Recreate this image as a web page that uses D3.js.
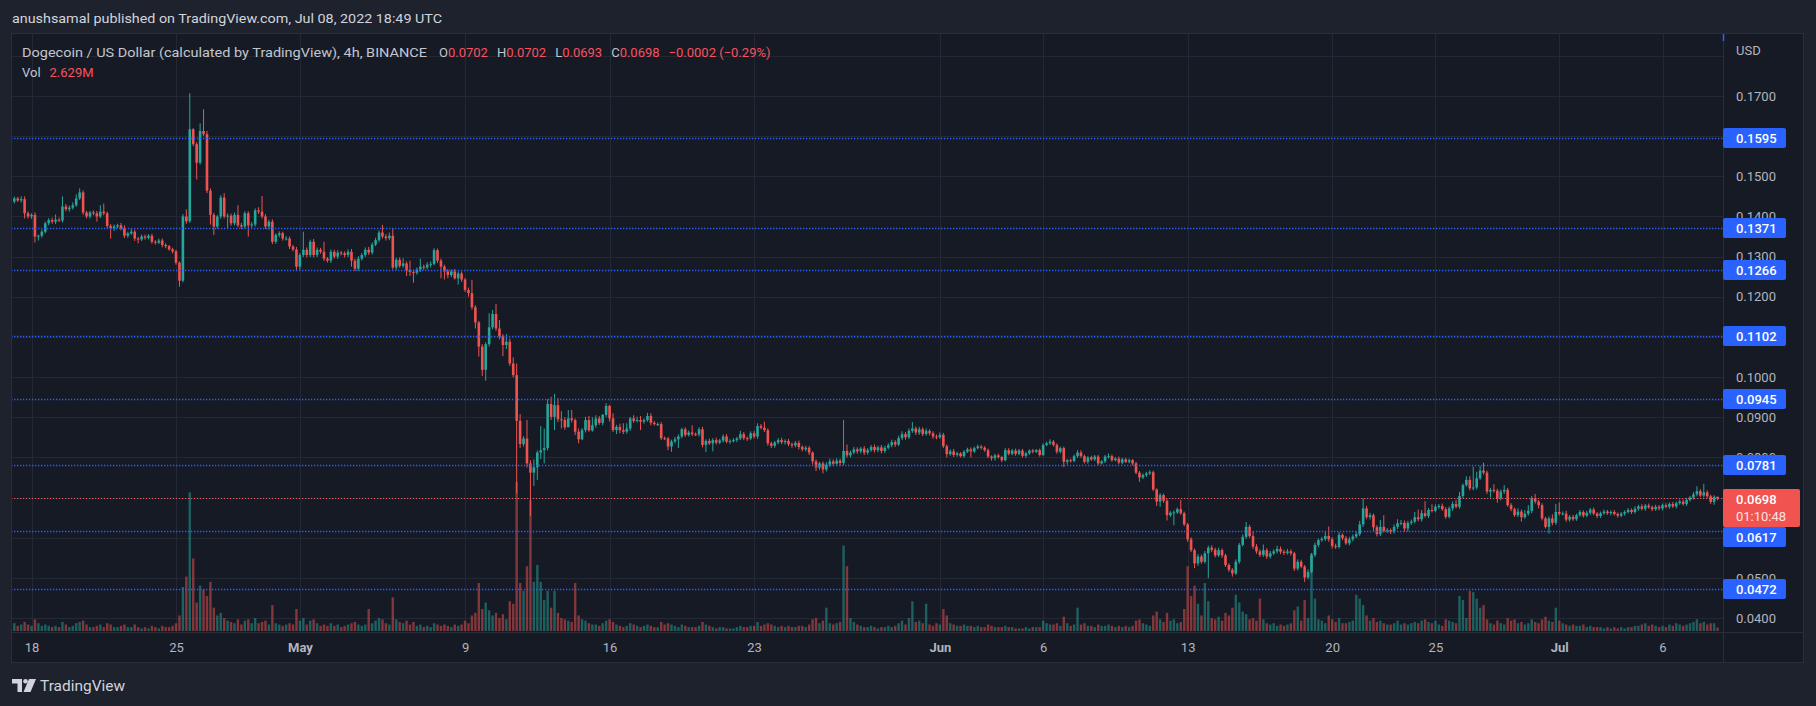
<!DOCTYPE html>
<html>
<head>
<meta charset="utf-8">
<title>Dogecoin / US Dollar, 4h</title>
<script src="https://cdn.jsdelivr.net/npm/d3@7"></script>
<style>
  html, body { margin: 0; padding: 0; background: #1e222d; }
  svg { display: block; font-family: Roboto, "Noto Sans", sans-serif; }
</style>
</head>
<body>
<svg id="chart" width="1816" height="706"></svg>
<script>
// 4h candles, first bar Apr 17 04:00, prices in units of 0.0001 USD
// open of a bar = close of the bar before it
const firstBar = Date.UTC(2022, 3, 17, 4);
const firstOpen = 1437;

const closes = [
  1445,1440,1443,1408,1400,            // Apr 17
  1404,1350,1352,1362,1383,1391,       // Apr 18
  1387,1392,1390,1425,1418,1422,
  1428,1445,1460,1410,1400,1410,
  1408,1400,1412,1408,1376,1370,
  1375,1378,1370,1352,1358,1362,
  1345,1343,1350,1347,1352,1337,
  1335,1340,1329,1326,1318,1313,
  1285,1240,1400,1388,1617,1580,       // Apr 25
  1534,1613,1605,1464,1404,1375,
  1400,1447,1400,1402,1383,1404,
  1378,1375,1408,1378,1380,1415,
  1412,1400,1375,1387,1337,1354,
  1358,1345,1345,1325,1318,1275,       // Apr 30
  1304,1317,1304,1337,1304,1317,       // May 1
  1312,1295,1290,1312,1300,1310,
  1308,1304,1312,1290,1270,1295,
  1304,1317,1310,1330,1341,1360,
  1350,1346,1352,1273,1292,1277,
  1283,1267,1262,1260,1268,1275,
  1273,1280,1282,1316,1290,1275,
  1263,1254,1263,1246,1258,1243,
  1217,1209,1174,1136,1076,1018,       // May 9
  1082,1124,1157,1121,1102,1080,
  1088,1034,1005,891,833,847,
  785,762,775,812,818,823,
  933,901,930,895,893,875,
  897,893,864,845,868,893,
  867,880,897,886,906,928,
  897,868,876,868,864,872,             // May 16
  897,891,893,889,893,903,
  886,883,883,848,847,827,
  840,845,852,870,856,862,
  858,857,870,831,841,835,
  843,837,842,852,839,841,
  843,847,858,848,847,860,
  852,878,874,868,835,829,             // May 23
  837,843,838,841,833,830,
  836,826,820,824,812,790,
  775,785,770,782,790,784,
  792,786,816,805,812,820,
  815,822,812,818,826,818,
  825,816,824,830,838,832,
  848,858,850,866,872,862,
  870,858,866,860,852,850,             // May 31
  856,828,808,815,806,810,             // Jun 1
  803,814,820,815,823,827,
  824,818,802,798,805,801,
  793,818,809,817,809,817,
  804,810,817,814,818,806,
  831,835,839,831,814,823,             // Jun 6
  789,793,791,803,812,803,
  789,800,795,802,785,790,
  802,803,793,797,787,795,
  789,793,785,762,750,756,
  760,763,720,690,706,692,
  656,662,663,671,661,633,
  596,569,536,553,540,561,             // Jun 13
  575,570,556,569,556,532,
  520,511,540,582,602,627,
  604,578,566,557,569,553,
  561,566,572,565,562,566,
  561,523,540,528,501,515,
  557,582,594,597,604,596,
  579,577,607,599,586,596,             // Jun 20
  603,609,633,673,651,656,
  626,609,627,617,619,615,
  627,636,637,623,637,640,
  651,646,661,654,669,667,
  677,679,671,652,673,684,             // Jun 25
  677,704,731,744,723,725,
  748,767,762,715,719,717,
  698,715,719,681,671,656,
  665,651,660,667,698,690,
  681,648,627,648,637,664,             // Jun 30
  660,660,645,652,646,656,             // Jul 1
  664,655,662,670,660,654,
  661,665,661,664,659,655,
  660,664,669,664,672,678,
  672,680,676,671,677,673,
  681,677,684,678,686,690,             // Jul 6
  684,694,700,708,716,705,
  713,703,689,702,698                  // Jul 8
];

// wick above the body / below the body, same units
const wickUp = [
  5,4,7,7,5,
  4,6,3,5,4,5,  6,13,5,25,6,5,  7,10,10,5,4,4,  5,6,16,20,4,5,  5,4,6,8,4,8,
  5,4,5,5,4,5,  4,5,5,4,3,4,  4,3,6,18,90,3,  5,19,54,8,6,5,  4,6,11,6,5,6,
  24,6,5,5,6,5,  8,39,6,5,6,4,  5,4,6,5,4,6,
  5,45,6,5,7,6,  5,25,4,6,5,6,  4,5,6,7,5,6,  5,6,7,5,6,5,  19,6,8,18,5,6,
  13,5,23,6,5,20,  5,6,6,5,4,5,  5,6,5,6,5,5,  4,6,33,5,4,6,  5,35,10,25,21,5,
  19,8,15,29,17,6,  46,8,20,5,60,49,  12,18,28,17,20,7,  21,21,4,8,5,8,  10,20,8,6,2,7,
  3,13,5,8,17,13,  4,8,8,10,4,8,  7,5,4,5,4,4,  4,6,5,4,5,5,  18,4,5,6,4,6,
  5,6,4,5,6,4,  5,4,8,5,4,5,  6,7,5,15,4,4,  4,5,6,4,5,4,  5,6,4,5,4,3,
  5,4,5,6,7,5,  6,5,77,16,5,6,  5,4,6,5,5,6,  4,6,5,5,6,5,  6,7,5,6,16,5,
  6,5,6,4,5,5,
  6,5,4,5,6,4,  3,4,4,5,4,5,  4,4,4,3,4,4,  3,5,5,4,5,4,  4,4,3,4,3,4,
  4,4,6,4,4,4,  4,3,4,4,6,6,  4,3,4,4,4,3,  4,7,4,4,5,4,  4,4,3,4,4,4,
  4,5,4,3,5,4,  4,4,5,4,23,4,  4,5,4,6,5,6,  5,6,5,6,4,4,  4,4,6,5,6,12,
  5,12,6,5,14,5,  6,5,8,6,5,6,  5,4,6,5,4,6,  5,6,4,5,11,24,  5,6,7,4,5,6,
  5,6,9,25,6,6,  4,5,17,29,5,4,  6,10,7,6,5,5,  13,19,8,30,5,14,  6,5,6,5,5,6,
  10,10,4,9,9,52,  16,11,20,5,5,14,  5,5,12,5,5,4,  8,5,9,14,6,11,  4,5,4,5,10,20,
  24,5,7,4,5,4,  5,4,5,4,5,4,  4,5,4,4,5,4,  4,4,5,4,6,4,  5,4,5,4,5,4,
  4,5,4,5,4,5,  5,5,4,6,12,5,  21,5,4,4,0
];
const wickDn = [
  5,4,5,13,5,
  6,15,10,5,4,5,  5,6,4,5,5,6,  5,4,4,6,5,5,  5,13,4,5,6,25,  6,5,5,6,5,4,
  6,10,4,5,4,5,  5,4,6,5,3,5,  5,15,4,6,4,5,  42,5,5,6,24,21,  5,6,5,30,6,5,
  5,6,5,28,6,5,  6,5,6,8,6,5,  6,5,5,6,5,8,
  8,5,6,5,6,5,  5,6,5,6,5,6,  5,6,5,15,6,5,  5,5,6,5,4,5,  5,6,5,5,6,5,
  5,15,10,25,5,6,  6,5,7,4,6,29,  20,8,5,3,16,6,  5,9,6,15,25,15,  27,6,5,6,8,28,
  10,6,6,181,10,6,  10,108,33,31,16,33,  6,8,33,7,21,6,  0,6,8,10,2,6,  3,3,6,5,6,5,
  8,5,10,8,6,5,  6,5,4,21,5,4,  6,4,5,5,4,9,  13,5,22,4,5,4,  5,4,5,6,18,4,
  20,5,4,5,4,5,  4,5,4,5,6,4,  5,6,4,5,6,6,  5,4,5,6,5,6,  5,6,5,5,6,8,
  9,6,10,5,6,6,  6,8,5,6,5,4,  6,5,6,5,4,6,  5,6,5,4,5,6,  4,5,6,4,5,6,
  6,5,4,5,6,5,
  4,5,8,4,5,4,  3,4,3,15,4,3,  4,4,4,6,6,4,  5,3,4,4,5,4,  4,5,4,4,3,4,
  3,3,4,4,5,4,  13,7,4,3,4,4,  4,5,4,4,4,3,  4,5,4,3,4,4,  3,4,5,4,11,4,
  5,4,4,11,13,5,  13,4,31,4,4,4,  6,5,12,6,5,4,  62,6,5,4,6,5,  5,8,4,5,4,5,
  4,6,6,5,5,6,  5,4,5,6,5,4,  5,6,5,4,11,5,  4,5,6,4,5,6,  6,5,4,5,4,5,
  5,4,5,6,5,6,  11,6,5,4,5,6,  5,6,5,8,8,5,  4,5,6,4,5,4,  4,5,4,5,4,6,
  4,5,6,4,5,5,  5,4,5,6,15,5,  11,5,6,4,5,4,  5,11,4,5,6,5,  8,5,4,17,6,5,
  5,4,5,5,4,4,  4,5,4,5,4,5,  5,4,4,5,4,5,  4,5,4,5,4,5,  4,5,4,5,4,5,
  5,4,5,4,5,4,  4,5,4,5,5,4,  5,4,5,7,5
];

// volume, millions
const volumes = [
  6,4,5,7,5,
  4,9,6,4,5,4,  3,4,3,7,5,3,  4,6,7,8,5,3,  3,4,5,3,6,5,  3,3,4,5,3,3,
  5,3,2,3,2,4,  3,2,4,3,3,4,  6,12,34,42,107,56,  22,35,32,27,38,18,  12,14,10,8,7,6,
  9,5,8,9,6,10,  6,7,8,5,20,6,  5,4,5,6,5,17,
  8,10,5,8,9,6,  4,5,4,6,4,5,  3,4,5,6,7,5,  4,5,17,6,8,10,  9,6,5,26,9,7,
  6,8,5,7,4,5,  3,4,3,6,5,4,  5,4,3,5,4,5,  8,6,12,14,37,17,  22,16,12,14,10,13,
  9,23,21,115,37,31,  50,101,38,51,38,24,  31,18,31,14,10,9,  8,7,37,12,9,8,  6,5,5,4,6,8,
  9,7,5,4,3,4,  6,5,4,3,4,5,  4,3,3,7,5,6,  5,4,3,5,4,3,  3,3,4,7,5,4,
  3,2,3,3,2,2,  2,3,4,3,3,4,  4,7,4,5,6,5,  4,3,4,3,4,3,  3,4,4,3,5,9,
  10,6,8,18,6,5,  6,7,66,50,10,7,  5,4,3,3,4,3,  2,3,3,4,3,4,  6,8,5,10,23,7,
  8,6,21,5,4,6,
  5,17,12,6,5,4,  4,5,4,4,3,4,  3,3,5,4,3,3,  3,4,3,3,2,2,  2,3,2,3,3,3,
  8,6,5,5,6,4,  11,6,4,5,18,5,  6,4,4,3,5,4,  4,5,4,3,4,3,  4,3,4,8,9,6,
  5,4,12,15,9,7,  14,8,9,6,7,17,  50,27,35,21,12,37,  23,10,9,11,8,14,  12,18,28,22,15,13,
  9,10,8,25,9,6,  5,6,4,5,4,5,  6,16,19,8,24,10,  60,25,9,8,6,12,  9,7,10,6,6,7,
  8,28,25,20,12,8,  10,7,8,6,5,5,  6,8,5,6,5,6,  7,6,8,9,7,6,  8,5,4,9,8,7,
  6,27,24,10,31,30,  25,18,20,9,6,5,  8,6,5,10,8,9,  6,7,5,6,9,7,  6,9,11,8,7,18,
  8,6,5,4,5,4,  4,5,3,4,3,3,  3,2,3,2,3,2,  3,2,3,3,4,4,  5,6,4,5,4,3,
  4,3,5,4,6,5,  4,5,6,7,9,6,  7,5,6,6,2.629
];

// price labels the tags leave visible (0.16, 0.11, 0.07 and 0.06 sit under tags)
const priceTicks = [0.17,0.15,0.14,0.13,0.12,0.10,0.09,0.08,0.05,0.04];
const gridPrices = [0.18,0.17,0.16,0.15,0.14,0.13,0.12,0.11,0.10,0.09,0.08,0.07,0.06,0.05,0.04];
const levels = [0.1595,0.1371,0.1266,0.1102,0.0945,0.0781,0.0617,0.0472];
const lastPrice = 0.0698;
const countdown = "01:10:48";

const tickDates = [
  [2022,3,18],[2022,3,25],[2022,4,1],[2022,4,9],[2022,4,16],[2022,4,23],
  [2022,5,1],[2022,5,6],[2022,5,13],[2022,5,20],[2022,5,25],[2022,6,1],[2022,6,6]
].map(d => new Date(Date.UTC(d[0], d[1], d[2])));
const tickLabels = ["18","25","May","9","16","23","Jun","6","13","20","25","Jul","6"];

// colours
const upCol = "#26a69a", dnCol = "#ef5350";
const grey = "#b2b5be", red = "#f7525f", blue = "#2962ff";

// layout
const L = 11, T = 33, R = 1723, B = 632, AB = 663, AR = 1804;

const svg = d3.select("#chart");

const n = Math.min(closes.length, wickUp.length, wickDn.length, volumes.length);
const bars = [];
for (let i = 0; i < n; i++) {
  const o = i ? closes[i - 1] : firstOpen, c = closes[i];
  bars.push({
    t: new Date(firstBar + i * 4 * 3600e3),
    o: o / 1e4, c: c / 1e4,
    h: (Math.max(o, c) + wickUp[i]) / 1e4,
    l: (Math.min(o, c) - wickDn[i]) / 1e4,
    v: volumes[i],
    up: c >= o
  });
}

const x = d3.scaleUtc()
  .domain([tickDates[0], tickDates[tickDates.length - 1]])
  .range([31.5, 1662.5]);
const y = d3.scaleLinear().domain([0.04, 0.17]).range([618, 96]);
const yv = d3.scaleLinear().domain([0, 115]).range([B - 1, 482]);

// backgrounds
svg.append("rect").attr("width", 1816).attr("height", 706).attr("fill", "#1e222d");
svg.append("rect").attr("x", L).attr("y", T).attr("width", AR - L).attr("height", AB - T)
  .attr("fill", "#161a25");

svg.append("defs").append("clipPath").attr("id", "pane")
  .append("rect").attr("x", L).attr("y", T).attr("width", R - L).attr("height", B - T);

const pane = svg.append("g").attr("clip-path", "url(#pane)");

// grid
pane.append("g").selectAll("line").data(gridPrices).join("line")
  .attr("x1", L).attr("x2", R)
  .attr("y1", d => Math.round(y(d)) + 0.5).attr("y2", d => Math.round(y(d)) + 0.5)
  .attr("stroke", "#242834");
pane.append("g").selectAll("line").data(tickDates).join("line")
  .attr("x1", d => Math.round(x(d)) + 0.5).attr("x2", d => Math.round(x(d)) + 0.5)
  .attr("y1", T).attr("y2", B)
  .attr("stroke", "#242834");

// volume
pane.append("g").selectAll("rect").data(bars).join("rect")
  .attr("x", d => x(d.t) - 1.2).attr("width", 2.4)
  .attr("y", d => yv(d.v)).attr("height", d => yv(0) - yv(d.v))
  .attr("fill", d => d.up ? upCol : dnCol).attr("fill-opacity", 0.5);

// candles
const candle = pane.append("g").selectAll("g").data(bars).join("g")
  .attr("fill", d => d.up ? upCol : dnCol).attr("stroke", d => d.up ? upCol : dnCol);
candle.append("line")
  .attr("x1", d => x(d.t)).attr("x2", d => x(d.t))
  .attr("y1", d => y(d.h)).attr("y2", d => y(d.l))
  .attr("stroke-width", 1);
candle.append("rect")
  .attr("x", d => x(d.t) - 1.3).attr("width", 2.6)
  .attr("y", d => y(Math.max(d.o, d.c)))
  .attr("height", d => Math.max(1, y(Math.min(d.o, d.c)) - y(Math.max(d.o, d.c))))
  .attr("stroke", "none");

// drawn levels and last price line
pane.append("g").selectAll("line").data(levels).join("line")
  .attr("x1", L).attr("x2", R)
  .attr("y1", d => Math.round(y(d)) + 0.5).attr("y2", d => Math.round(y(d)) + 0.5)
  .attr("stroke", blue).attr("stroke-width", 1.3).attr("stroke-dasharray", "1.3 1.7");
pane.append("line")
  .attr("x1", L).attr("x2", R)
  .attr("y1", Math.round(y(lastPrice)) + 0.5).attr("y2", Math.round(y(lastPrice)) + 0.5)
  .attr("stroke", "#f05a5a").attr("stroke-width", 1.2).attr("stroke-dasharray", "1.2 1.8");

// frame
const frame = svg.append("g").attr("stroke", "#2a2e39").attr("fill", "none");
frame.append("rect").attr("x", L + 0.5).attr("y", T + 0.5).attr("width", AR - L - 1).attr("height", AB - T - 1);
frame.append("line").attr("x1", R + 0.5).attr("x2", R + 0.5).attr("y1", T).attr("y2", AB);
frame.append("line").attr("x1", L).attr("x2", AR).attr("y1", B + 0.5).attr("y2", B + 0.5);
svg.append("line").attr("x1", R + 0.5).attr("x2", R + 0.5).attr("y1", T + 1).attr("y2", T + 8)
  .attr("stroke", blue).attr("stroke-width", 1.5);

// time axis
const xAxis = svg.append("g")
  .attr("transform", `translate(0,${B})`)
  .call(d3.axisBottom(x).tickValues(tickDates).tickFormat((d, i) => tickLabels[i])
    .tickSize(0).tickPadding(11));
xAxis.select(".domain").remove();
xAxis.selectAll("text")
  .attr("fill", "#b2b5be")
  .attr("font-size", 13)
  .attr("font-family", "Roboto, sans-serif")
  .attr("font-weight", (d, i) => /[A-Za-z]/.test(tickLabels[i]) ? 700 : 400);

// price axis
const yAxis = svg.append("g")
  .attr("transform", `translate(${R},0)`)
  .call(d3.axisRight(y).tickValues(priceTicks).tickFormat(d3.format(".4f"))
    .tickSize(0).tickPadding(13));
yAxis.select(".domain").remove();
yAxis.selectAll("text").attr("fill", grey).attr("font-size", 13)
  .attr("font-family", "Roboto, sans-serif");

svg.append("text").attr("x", 1736).attr("y", 54.5).attr("fill", grey)
  .attr("font-size", 13).text("USD");

// last price tag, then level tags pushed clear of it (as the platform does)
const lastY = Math.round(y(lastPrice));
const lastTop = lastY - 9, lastBottom = lastY + 29;
const tagY = d => {
  const v = Math.round(y(d));
  if (v + 10 > lastTop && v - 10 < lastBottom) return v < lastY ? lastTop - 10 : lastBottom + 10;
  return v;
};

const tags = svg.append("g").selectAll("g").data(levels).join("g")
  .attr("transform", d => `translate(${R},${tagY(d)})`);
tags.append("rect").attr("x", 0).attr("y", -10).attr("width", 63).attr("height", 20)
  .attr("rx", 2).attr("fill", blue);
tags.append("text").attr("x", 13).attr("y", 4.5).attr("fill", "#ffffff")
  .attr("font-size", 13).attr("font-weight", 500).text(d => d3.format(".4f")(d));

const lastTag = svg.append("g").attr("transform", `translate(${R},${lastY})`);
lastTag.append("rect").attr("x", 0).attr("y", -9).attr("width", 77).attr("height", 38)
  .attr("rx", 2).attr("fill", "#f05350");
lastTag.append("text").attr("x", 13).attr("y", 6).attr("fill", "#ffffff")
  .attr("font-size", 13).attr("font-weight", 500).text(d3.format(".4f")(lastPrice));
lastTag.append("text").attr("x", 13).attr("y", 23).attr("fill", "#fbe3e3")
  .attr("font-size", 13).text(countdown);

// header and legend
svg.append("text").attr("x", 12).attr("y", 22.5).attr("fill", "#d1d4dc")
  .attr("font-size", 13).attr("textLength", 430).attr("lengthAdjust", "spacingAndGlyphs")
  .text("anushsamal published on TradingView.com, Jul 08, 2022 18:49 UTC");

svg.append("text").attr("x", 22).attr("y", 56.5).attr("fill", "#c3c6ce")
  .attr("font-size", 13).attr("textLength", 405).attr("lengthAdjust", "spacingAndGlyphs")
  .text("Dogecoin / US Dollar (calculated by TradingView), 4h, BINANCE");

const ohlc = [["O", "0.0702"], ["H", "0.0702"], ["L", "0.0693"], ["C", "0.0698"]];
const legend = svg.append("text").attr("x", 439).attr("y", 56.5).attr("font-size", 13);
ohlc.forEach(([k, v], j) => {
  legend.append("tspan").attr("dx", j ? 9 : 0).attr("fill", "#c3c6ce").text(k);
  legend.append("tspan").attr("fill", red).text(v);
});
legend.append("tspan").attr("dx", 9).attr("fill", red).text("\u22120.0002 (\u22120.29%)");

const vol = svg.append("text").attr("x", 22).attr("y", 76.5).attr("font-size", 13);
vol.append("tspan").attr("fill", "#c3c6ce").text("Vol");
vol.append("tspan").attr("dx", 9).attr("fill", red).text(d3.format(".4~s")(volumes[n - 1] * 1e6));

// footer logo
const logo = svg.append("g").attr("transform", "translate(12,679)").attr("fill", "#d1d4dc");
logo.append("path").attr("d", "M0 0 H10 V13 H5.5 V4.5 H0 Z");
logo.append("circle").attr("cx", 13.5).attr("cy", 2.3).attr("r", 2.3);
logo.append("path").attr("d", "M17 0 H24 L18.5 13 H11.5 Z");
svg.append("text").attr("x", 40).attr("y", 691).attr("fill", "#d1d4dc")
  .attr("font-size", 15).attr("textLength", 85).attr("lengthAdjust", "spacingAndGlyphs")
  .text("TradingView");
</script>
</body>
</html>
